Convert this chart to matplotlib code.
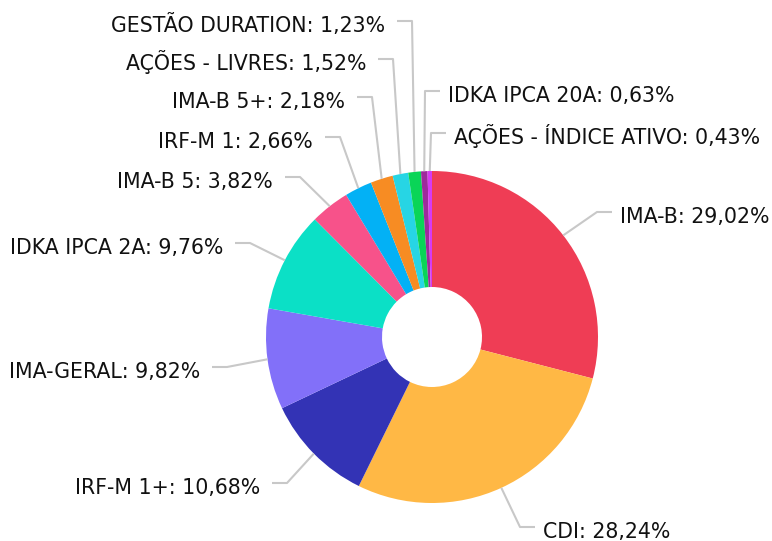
import numpy as np
import matplotlib
matplotlib.use("Agg")
import matplotlib.pyplot as plt

# Data
labels = ["IMA-B", "CDI", "IRF-M 1+", "IMA-GERAL", "IDKA IPCA 2A", "IMA-B 5",
          "IRF-M 1", "IMA-B 5+", "AÇÕES - LIVRES", "GESTÃO DURATION",
          "IDKA IPCA 20A", "AÇÕES - ÍNDICE ATIVO"]
values = [29.02, 28.24, 10.68, 9.82, 9.76, 3.82, 2.66, 2.18, 1.52, 1.23, 0.63, 0.43]
colors = ["#EF3D55", "#FFB845", "#3333B5", "#8270F9", "#0BE0C6", "#F7528A",
          "#03B1F5", "#F78C23", "#27D5E4", "#0AD557", "#9E2A9C", "#D63AF2"]

# Layout (pixels, image coords from top-left): elbow point of each leader line
elbows = [(597, 212), (520, 527), (287, 483), (227, 367), (250, 243), (300, 177),
          (340, 137), (372, 97), (393, 59), (412, 21), (425, 91), (431, 133)]
right_side = [True, True, False, False, False, False,
              False, False, False, False, True, True]

W, H = 772, 541
cx, cy, R, r_in = 432, 337, 166, 50

fig = plt.figure(figsize=(W / 100, H / 100), dpi=100)
ax = fig.add_axes([0, 0, 1, 1])

wedges, _ = ax.pie(values, colors=colors, startangle=90, counterclock=False,
                   center=(cx, H - cy), radius=R,
                   wedgeprops=dict(width=R - r_in, linewidth=0))
# pie() resets the limits, so set them afterwards
ax.set_xlim(0, W)
ax.set_ylim(0, H)
ax.set_aspect("equal")
ax.axis("off")

total = sum(values)
cum = 0.0
for lab, v, (ex, ey), right in zip(labels, values, elbows, right_side):
    mid = (cum + v / 2) / total * 2 * np.pi
    cum += v
    px = cx + R * np.sin(mid)
    py = cy - R * np.cos(mid)
    if right:
        hx = ex + 15
        tx, ha = ex + 23, "left"
    else:
        hx = ex - 15
        tx, ha = ex - 27, "right"
    ax.plot([px, ex, hx], [H - py, H - ey, H - ey], color="#C8C8C8", lw=1.5,
            solid_capstyle="butt", zorder=1)
    ax.text(tx, H - (ey + 11), f"{lab}: {v:.2f}%".replace(".", ","),
            ha=ha, va="baseline", fontsize=14.8, color="#111111",
            family="DejaVu Sans")

fig.savefig("out.png", dpi=100)
